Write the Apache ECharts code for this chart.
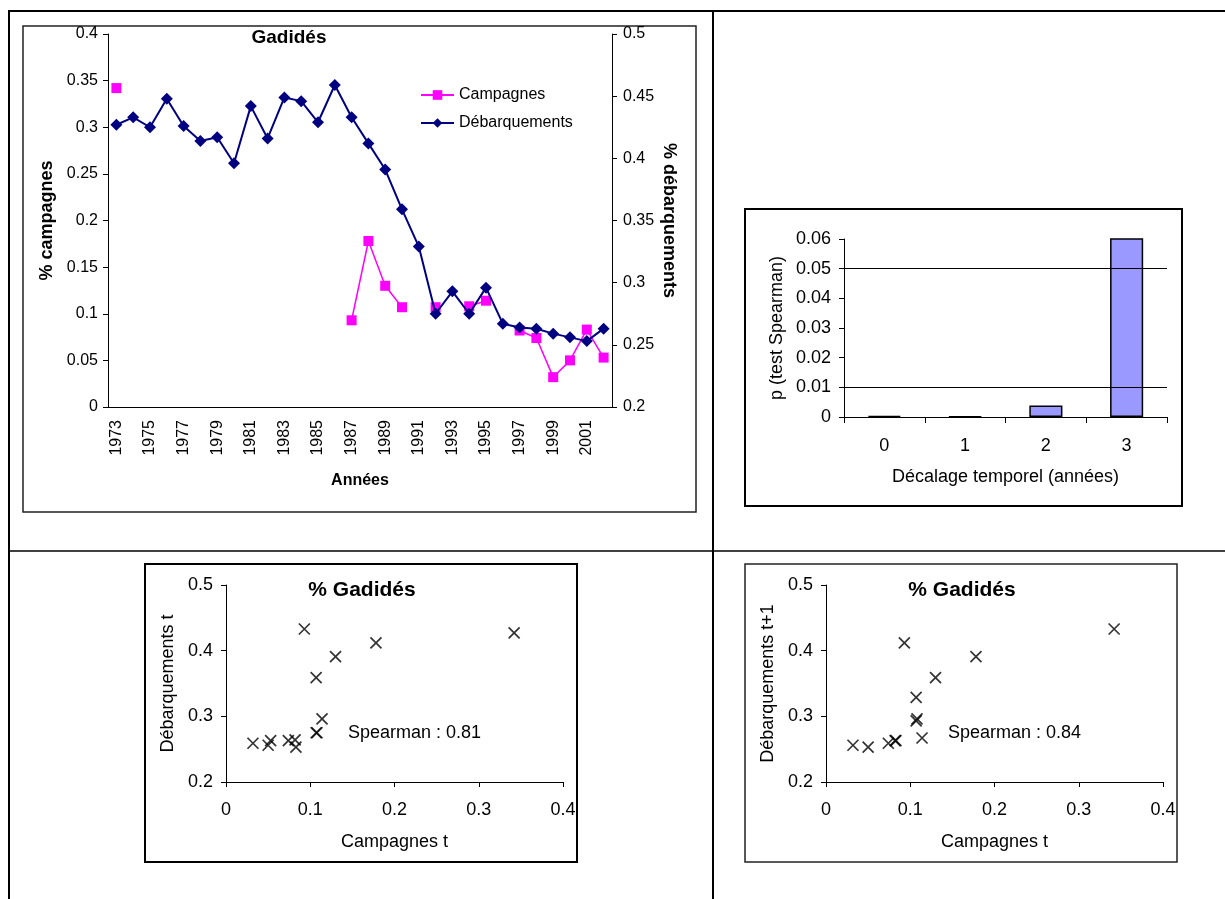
<!DOCTYPE html>
<html>
<head>
<meta charset="utf-8">
<title>Gadidés</title>
<script src="https://cdn.jsdelivr.net/npm/echarts@6/dist/echarts.min.js"></script>
<style>
  html, body { margin: 0; padding: 0; background: #fff; }
  #chart { width: 1225px; height: 899px; }
</style>
</head>
<body>
<div id="chart"></div>
<script>
// Years of the series
const years = ['1973','1974','1975','1976','1977','1978','1979','1980','1981','1982',
               '1983','1984','1985','1986','1987','1988','1989','1990','1991','1992',
               '1993','1994','1995','1996','1997','1998','1999','2000','2001','2002'];

// Share of gadids in survey catches (missing years = null)
const campagnes = [0.342, null, null, null, null, null, null, null, null, null,
                   null, null, null, null, 0.093, 0.178, 0.130, 0.107, null, 0.107,
                   null, 0.108, 0.114, null, 0.082, 0.074, 0.032, 0.050, 0.083, 0.053];

// Share of gadids in landings
const debarquements = [0.427, 0.433, 0.425, 0.448, 0.426, 0.414, 0.417, 0.396, 0.442, 0.416,
                       0.449, 0.446, 0.429, 0.459, 0.433, 0.412, 0.391, 0.359, 0.329, 0.275,
                       0.293, 0.275, 0.296, 0.267, 0.264, 0.263, 0.259, 0.256, 0.253, 0.263];

// Spearman test p-values by time lag (years)
const lagLabels = ['0', '1', '2', '3'];
const pSpearman = [0.0004, 0.0002, 0.0039, 0.07];
const seuils = [0.05, 0.01];

// Spearman coefficients for lag 0 and lag 1
const spearman = ['0.81', '0.84'];

// Scatter pairs built from the yearly series
const pairsT = [];
const pairsT1 = [];
campagnes.forEach(function (c, i) {
  if (c === null) return;
  pairsT.push([c, debarquements[i]]);
  if (i + 1 < debarquements.length) pairsT1.push([c, debarquements[i + 1]]);
});

const FONT = "'Liberation Sans', Arial, sans-serif";
const black = '#000';

function valueAxisBase(extra) {
  return Object.assign({
    axisLine: { show: true, lineStyle: { color: black, width: 1 } },
    axisTick: { show: true, length: 5, lineStyle: { color: black } },
    splitLine: { show: false },
    axisLabel: { color: black, fontFamily: FONT, fontSize: 18 },
    nameTextStyle: { color: black, fontFamily: FONT, fontSize: 18 }
  }, extra);
}

const crossSymbol = 'path://M0 0L10 10M10 0L0 10';

const chart = echarts.init(document.getElementById('chart'), null, { renderer: 'canvas' });

chart.setOption({
  animation: false,
  backgroundColor: '#fff',
  textStyle: { fontFamily: FONT },
  grid: [
    { left: 108, top: 34, width: 504, height: 373 },
    { left: 844, top: 239, width: 323, height: 178 },
    { left: 226, top: 585, width: 337, height: 197 },
    { left: 826, top: 585, width: 337, height: 197 }
  ],
  legend: {
    left: 420, top: 87, orient: 'vertical', padding: 0,
    itemWidth: 33, itemHeight: 12, itemGap: 12,
    textStyle: { color: black, fontFamily: FONT, fontSize: 16 },
    data: ['Campagnes', 'Débarquements']
  },
  xAxis: [
    {
      gridIndex: 0, type: 'category', data: years, boundaryGap: true,
      name: 'Années', nameLocation: 'middle', nameGap: 66,
      nameTextStyle: { color: black, fontFamily: FONT, fontSize: 16, fontWeight: 'bold' },
      axisLine: { lineStyle: { color: black, width: 1 } },
      axisTick: { interval: 0, length: 6, lineStyle: { color: black } },
      axisLabel: { interval: 1, rotate: 90, margin: 13, color: black, fontFamily: FONT, fontSize: 16 }
    },
    valueAxisBase({
      gridIndex: 1, type: 'category', data: lagLabels,
      name: 'Décalage temporel (années)', nameLocation: 'middle', nameGap: 51,
      axisTick: { show: true, length: 6, lineStyle: { color: black } },
      axisLabel: { color: black, fontFamily: FONT, fontSize: 18, margin: 20 }
    }),
    valueAxisBase({
      gridIndex: 2, type: 'value', min: 0, max: 0.4, interval: 0.1,
      name: 'Campagnes t', nameLocation: 'middle', nameGap: 51,
      axisLabel: { color: black, fontFamily: FONT, fontSize: 18, margin: 19 }
    }),
    valueAxisBase({
      gridIndex: 3, type: 'value', min: 0, max: 0.4, interval: 0.1,
      name: 'Campagnes t', nameLocation: 'middle', nameGap: 51,
      axisLabel: { color: black, fontFamily: FONT, fontSize: 18, margin: 19 }
    })
  ],
  yAxis: [
    valueAxisBase({
      gridIndex: 0, type: 'value', min: 0, max: 0.4, interval: 0.05, position: 'left',
      name: '% campagnes', nameLocation: 'middle', nameGap: 52,
      nameTextStyle: { color: black, fontFamily: FONT, fontSize: 18, fontWeight: 'bold' },
      axisLabel: { color: black, fontFamily: FONT, fontSize: 16, margin: 10 }
    }),
    valueAxisBase({
      gridIndex: 0, type: 'value', min: 0.2, max: 0.5, interval: 0.05, position: 'right',
      name: '% débarquements', nameLocation: 'middle', nameGap: 48, nameRotate: -90,
      nameTextStyle: { color: black, fontFamily: FONT, fontSize: 18, fontWeight: 'bold' },
      axisLabel: { color: black, fontFamily: FONT, fontSize: 16, margin: 11 }
    }),
    valueAxisBase({
      gridIndex: 1, type: 'value', min: 0, max: 0.06, interval: 0.01,
      name: 'p (test Spearman)', nameLocation: 'middle', nameGap: 58,
      axisLabel: { color: black, fontFamily: FONT, fontSize: 18, margin: 13 }
    }),
    valueAxisBase({
      gridIndex: 2, type: 'value', min: 0.2, max: 0.5, interval: 0.1,
      name: 'Débarquements t', nameLocation: 'middle', nameGap: 49,
      axisLabel: { color: black, fontFamily: FONT, fontSize: 18, margin: 13 }
    }),
    valueAxisBase({
      gridIndex: 3, type: 'value', min: 0.2, max: 0.5, interval: 0.1,
      name: 'Débarquements t+1', nameLocation: 'middle', nameGap: 49,
      axisLabel: { color: black, fontFamily: FONT, fontSize: 18, margin: 13 }
    })
  ],
  series: [
    {
      name: 'Campagnes', type: 'line', xAxisIndex: 0, yAxisIndex: 0,
      data: campagnes, connectNulls: false, showAllSymbol: true,
      symbol: 'rect', symbolSize: 10,
      lineStyle: { color: '#FF00FF', width: 1.5 },
      itemStyle: { color: '#FF00FF' },
      z: 2
    },
    {
      name: 'Débarquements', type: 'line', xAxisIndex: 0, yAxisIndex: 1,
      data: debarquements, showAllSymbol: true,
      symbol: 'diamond', symbolSize: 12,
      lineStyle: { color: '#000080', width: 2 },
      itemStyle: { color: '#000080' },
      z: 3
    },
    {
      name: 'p', type: 'bar', xAxisIndex: 1, yAxisIndex: 2,
      data: pSpearman, barWidth: '41%', clip: true,
      itemStyle: { color: '#9999FF', borderColor: black, borderWidth: 1.5 },
      markLine: {
        silent: true, symbol: 'none', animation: false,
        label: { show: false },
        lineStyle: { color: black, type: 'solid', width: 1 },
        data: seuils.map(function (v) { return { yAxis: v }; })
      }
    },
    {
      name: 'lag0', type: 'scatter', xAxisIndex: 2, yAxisIndex: 3,
      data: pairsT, symbol: crossSymbol, symbolSize: 11,
      itemStyle: { color: 'transparent', borderColor: black, borderWidth: 1.7 }
    },
    {
      name: 'lag1', type: 'scatter', xAxisIndex: 3, yAxisIndex: 4,
      data: pairsT1, symbol: crossSymbol, symbolSize: 11,
      itemStyle: { color: 'transparent', borderColor: black, borderWidth: 1.7 }
    }
  ],
  graphic: [
    // table rules
    { type: 'line', shape: { x1: 9, y1: 11, x2: 1225, y2: 11 }, style: { stroke: black, lineWidth: 2 } },
    { type: 'line', shape: { x1: 9, y1: 10, x2: 9, y2: 899 }, style: { stroke: black, lineWidth: 2 } },
    { type: 'line', shape: { x1: 713, y1: 10, x2: 713, y2: 899 }, style: { stroke: black, lineWidth: 2 } },
    { type: 'line', shape: { x1: 9, y1: 551, x2: 1225, y2: 551 }, style: { stroke: black, lineWidth: 1.5 } },
    // chart frames
    { type: 'rect', shape: { x: 23, y: 26, width: 673, height: 486 }, style: { fill: 'none', stroke: '#222', lineWidth: 1.5 } },
    { type: 'rect', shape: { x: 745, y: 209, width: 437, height: 297 }, style: { fill: 'none', stroke: black, lineWidth: 2 } },
    { type: 'rect', shape: { x: 145, y: 564, width: 432, height: 298 }, style: { fill: 'none', stroke: black, lineWidth: 2 } },
    { type: 'rect', shape: { x: 745, y: 564, width: 432, height: 298 }, style: { fill: 'none', stroke: '#222', lineWidth: 1.5 } },
    // titles
    { type: 'text', x: 289, y: 38, style: { text: 'Gadidés', fill: black, font: "bold 19px 'Liberation Sans', Arial, sans-serif", align: 'center', verticalAlign: 'middle' } },
    { type: 'text', x: 362, y: 590, style: { text: '% Gadidés', fill: black, font: "bold 21px 'Liberation Sans', Arial, sans-serif", align: 'center', verticalAlign: 'middle' } },
    { type: 'text', x: 962, y: 590, style: { text: '% Gadidés', fill: black, font: "bold 21px 'Liberation Sans', Arial, sans-serif", align: 'center', verticalAlign: 'middle' } },
    // Spearman annotations
    { type: 'text', x: 348, y: 733, style: { text: 'Spearman : ' + spearman[0], fill: black, font: "18px 'Liberation Sans', Arial, sans-serif", align: 'left', verticalAlign: 'middle' } },
    { type: 'text', x: 948, y: 733, style: { text: 'Spearman : ' + spearman[1], fill: black, font: "18px 'Liberation Sans', Arial, sans-serif", align: 'left', verticalAlign: 'middle' } }
  ]
});
</script>
</body>
</html>
